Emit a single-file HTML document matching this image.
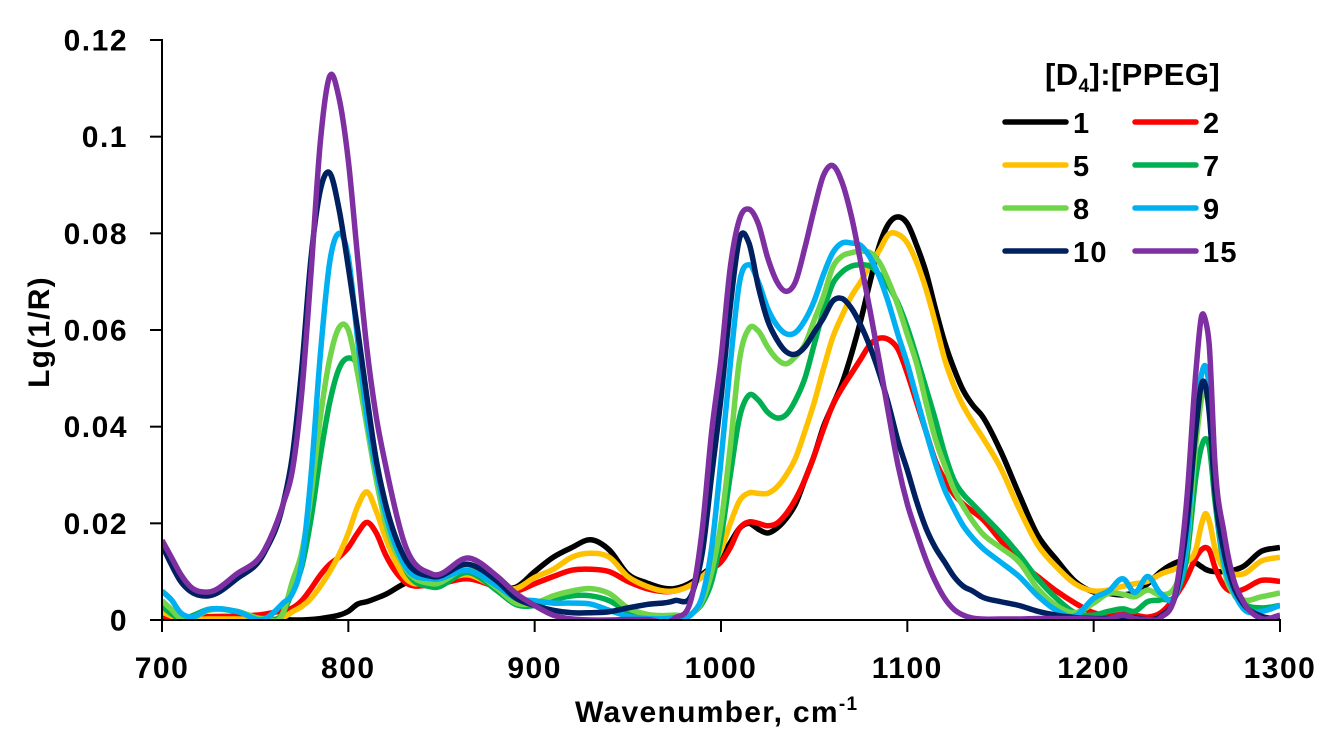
<!DOCTYPE html>
<html lang="en">
<head>
<meta charset="utf-8">
<title>Lg(1/R) vs Wavenumber</title>
<style>
html,body{margin:0;padding:0;background:#fff;}
body{width:1330px;height:744px;overflow:hidden;}
svg{display:block;}
text{font-family:"Liberation Sans",sans-serif;font-weight:bold;fill:#000;}
.tick{font-size:30px;letter-spacing:1.5px;}
.title{font-size:30px;letter-spacing:1.3px;}
.ltext{font-size:29px;letter-spacing:1.2px;}
</style>
</head>
<body>
<svg id="chart" width="1330" height="744" viewBox="0 0 1330 744" xmlns="http://www.w3.org/2000/svg">
  <rect width="1330" height="744" fill="#fff"/>
  <defs><clipPath id="plot-clip"><rect x="162" y="0" width="1118" height="620"/></clipPath></defs>
  <g id="series-layer" clip-path="url(#plot-clip)"></g>
  <g id="axes-layer"></g>
  <text class="title" x="575" y="722">Wavenumber, cm<tspan font-size="19" dy="-12">-1</tspan></text>
  <text class="title" style="letter-spacing:1.2px" text-anchor="middle" transform="translate(49,332) rotate(-90)">Lg(1/R)</text>
  <g id="legend-layer">
    <text class="ltext" x="1045" y="85" style="font-size:31px;letter-spacing:0.4px">[D<tspan font-size="19" dy="7">4</tspan><tspan dy="-7">]:[PPEG]</tspan></text>
  </g>
</svg>
<script>
// Shared wavenumber grid, cm-1
const wavenumbers = [
  700,705,710,715,725,740,755,765,
  770,775,780,785,790,795,800,805,810,815,820,
  830,845,865,880,890,900,910,920,930,940,950,960,975,
  985,990,995,1000,1005,1010,1015,1020,1025,1030,1035,
  1040,1045,1050,1055,1060,1065,1070,1075,1080,1085,1090,
  1095,1100,1105,1110,1115,1120,1125,1130,1135,1140,
  1150,1160,1170,1180,1190,1200,1208,1216,1222,1229,1236,
  1245,1250,1255,1258,1260,1262,1265,1270,
  1275,1280,1290,1300
];
// Lg(1/R) values, in thousandths
const ratio1 = [
  0.3,0.3,0.2,0.2,0.3,0.2,0.1,0.1,
  0,0,0.1,0.3,0.6,1,1.8,3.3,3.8,4.5,5.3,
  7.5,9,10,7,6.8,10,13,15,16.6,14.5,9.5,7.7,6.5,
  8,9.5,11,13,16,19,20,18.8,18,19,21,
  24,29,34,40,44.5,49,55,62,70,77.5,82,
  83.4,82,77.5,72,64.5,57.5,52,47.5,44.5,42.3,
  35,26,17.5,12.5,8,5.8,5.5,5.2,5.7,7.5,10,
  12,12.5,11.8,11,10.5,10.2,10,10,
  10.3,11,14.2,15
];
const ratio2 = [
  0.3,0.3,0.2,0.5,0.7,0.8,1.2,2,
  2.5,4,6.5,9.3,11.5,13,15,18,20.2,18,13.5,
  8,7.3,8.5,6.8,6,7.5,9,10.3,10.5,10,8,6.5,6,
  7.5,9,10.5,12,15,19,20.3,20,19.5,20,22,
  25,29,34,39.5,44.5,48,51,54,57,58.3,58,
  56,51,45,39,33,29,26,24,22.5,21,
  16.5,12,9,6,3.5,1.5,0.8,1.2,1,0.6,1.5,
  5.5,8.8,13,14.6,15,14.5,11,7,
  5.8,6.3,8.2,8
];
const ratio5 = [
  1.7,0.8,0.2,0.1,0.2,0.2,0.1,0.5,
  1.7,2.8,4.5,7,10,13.5,18,23.5,26.5,22.5,17,
  9,7.8,9.3,6.8,6.5,8.8,10.5,13,13.8,13,9,7,6,
  7.5,9,11,14.5,20,24.7,26.3,26.2,26.2,27.5,30,
  33.5,39,45,52,58.5,63,67,70,73.5,76.5,79.8,
  79.8,78,74,68.5,61.5,54,48.5,44.3,41,38,
  31.5,23,15.5,11,7.5,6,6.2,7,7.5,8,9.5,
  10.8,12,14.8,20,22,20.5,15,10.5,
  9.5,9.5,12.2,13
];
const ratio7 = [
  2.8,1.3,0.2,0.7,2.2,1.8,0.2,1.5,
  6,11,21,34,45,52,54.2,52.5,44,33,23,
  11,6.8,9.8,6,3.2,3,4.2,5,5,4,1.8,1,0.5,
  1.5,3.5,8,17,30,42,46.5,45.5,43,41.8,42.5,
  45.5,50,57,64,69.6,72,73.2,73.5,73.2,71.5,69,
  65.5,60.5,54.4,48,41.5,34.5,29,26,24,22,
  18,13.5,8.5,4.5,1.5,1,1.8,2.3,1.8,3.8,4.2,
  6,13,30,36,37.5,36,25,11,
  5.5,3.5,2.5,3
];
const ratio8 = [
  4,2.2,0.3,0.3,2,1.8,0.3,1.5,
  8,14,26,42,54,60.5,60,51,40,29,20,
  11,7.5,10.5,6.5,3.5,3.5,5,6,6.5,5.5,2.5,1.2,1,
  1.5,4,10,20,36,54,60.3,59.8,56.5,54,53,
  54.5,57,62,67,73,75.3,76,76.3,76,74,70,
  65,59,53,45,37.5,32,27,23.5,20.5,18,
  15,12,6.5,3,1.5,3.5,5.5,5.3,4.8,6.2,5.2,
  8,15,37,46,48,46,30,11,
  5.5,4.2,4.8,5.6
];
const ratio9 = [
  6,4.2,1.5,0.6,2.2,1.8,0.2,3.5,
  5.5,12,30,55,74,80,75,58,42,31,22,
  11.5,8.5,10.2,7,4.5,4,3.5,3.5,3.3,2,0.8,0.3,0.5,
  1.5,5,15,33,53,70,73.5,70,64.5,61,59.2,
  59.5,62,66,71.5,76,78,78,77.5,75,71,65.5,
  59,53,46,39,32.5,27,23,19.5,17,15,
  12,9,5,2,0.8,4.5,6,8.5,5.7,9,5.5,
  6,16,42,51,52.5,48,28,12,
  6,2.5,1.8,3
];
const ratio10 = [
  15.5,11.5,8,6,5,8.5,14,24,
  34,52,75,89,92.5,85,73,60,46,33,24,
  13,9,11.5,8,4.5,3,2,1.5,1.5,1.7,2.5,3.2,4,
  6,14,30,46,65,79,78,69,62,58,55.5,
  55,56.5,59.5,62.5,66,66.5,64.5,61,56.5,51,44.5,
  37,31,24.5,19,15,12,9,7,6,4.8,
  3.8,3,1.8,1,0.5,0.3,0.3,0.6,0.5,0.1,0.8,
  7,20,40,49,48.5,43,27,14,
  7,3.5,0.8,0.2
];
const ratio15 = [
  16.5,13,9.5,7,5.8,9.5,14.5,24,
  31,47,72,99,112.5,108,95,75,56,42,32,
  16,9.5,12.8,9,5.5,3,1,0.2,0,0,0.1,0.1,0.3,
  6,19,39,54,73,83,85,82,75,70,68,
  70,77,85,92,94,90.5,83.5,74,64,53.5,42.5,
  32,24,18,12.5,8,4.5,2.2,1,0.4,0.2,
  0.2,0.2,0.3,0.3,0.3,0.2,0.2,1,0.3,0.1,0.5,
  8,25,52,63,62,57,33,18,
  8.5,4,0.3,1
];
const seriesValues = [ratio1, ratio2, ratio5, ratio7, ratio8, ratio9, ratio10, ratio15];
const seriesLabels = ["1","2","5","7","8","9","10","15"];
const seriesColors = ["#000000","#FF0000","#FFC000","#00B050","#70D548","#00B0F0","#002060","#7E30A2"];
const xTicks = [700,800,900,1000,1100,1200,1300];
const yTicks = [0,0.02,0.04,0.06,0.08,0.1,0.12];

const NS = "http://www.w3.org/2000/svg";
const plot = {left:162,right:1280,top:40,bottom:620};
const xDomain = [700,1300];
const yDomain = [0,0.12];
function xScale(v){ return plot.left + (v - xDomain[0]) / (xDomain[1] - xDomain[0]) * (plot.right - plot.left); }
function yScale(v){ return plot.bottom - (v - yDomain[0]) / (yDomain[1] - yDomain[0]) * (plot.bottom - plot.top); }

// Smooth cubic path through the scaled points (three-point tangents)
function linePath(xs, ys){
  const n = xs.length, dx = [], m = [], t = [];
  for(let i=0;i<n-1;i++){ dx[i]=xs[i+1]-xs[i]; m[i]=(ys[i+1]-ys[i])/dx[i]; }
  t[0]=m[0]; t[n-1]=m[n-2];
  for(let i=1;i<n-1;i++){
    t[i]=(m[i-1]*dx[i]+m[i]*dx[i-1])/(dx[i]+dx[i-1]);
  }
  let d="M"+xs[0].toFixed(2)+" "+ys[0].toFixed(2);
  for(let i=0;i<n-1;i++){
    const h=dx[i]/3;
    d+="C"+(xs[i]+h).toFixed(2)+" "+(ys[i]+t[i]*h).toFixed(2)+" "+(xs[i+1]-h).toFixed(2)+" "+(ys[i+1]-t[i+1]*h).toFixed(2)+" "+xs[i+1].toFixed(2)+" "+ys[i+1].toFixed(2);
  }
  return d;
}

const seriesLayer = document.getElementById("series-layer");
const axesLayer = document.getElementById("axes-layer");
const legendLayer = document.getElementById("legend-layer");

seriesValues.forEach(function(vals, idx){
  const path = document.createElementNS(NS,"path");
  
  
  path.setAttribute("d", linePath(wavenumbers.map(xScale), vals.map(function(v){ return yScale(v/1000); })));
  path.setAttribute("fill","none");
  path.setAttribute("stroke",seriesColors[idx]);
  path.setAttribute("stroke-width","5.5");
  path.setAttribute("stroke-linejoin","round");
  seriesLayer.appendChild(path);
});

function axisLine(x1,y1,x2,y2,name){
  const l = document.createElementNS(NS,"line");
  
  
  l.setAttribute("x1",x1); l.setAttribute("y1",y1);
  l.setAttribute("x2",x2); l.setAttribute("y2",y2);
  l.setAttribute("stroke","#000");
  l.setAttribute("stroke-width","2");
  axesLayer.appendChild(l);
}
axisLine(plot.left,plot.top-1,plot.left,plot.bottom+1,"y-axis-line");
axisLine(plot.left-1,plot.bottom,plot.right+1,plot.bottom,"x-axis-line");

yTicks.forEach(function(v){
  const y = yScale(v);
  axisLine(plot.left-12,y,plot.left,y,"y-axis-tick");
  const t = document.createElementNS(NS,"text");
  
  
  t.setAttribute("class","tick");
  t.setAttribute("x",128);
  t.setAttribute("y",y+10.5);
  t.setAttribute("text-anchor","end");
  t.textContent = String(v);
  axesLayer.appendChild(t);
});
xTicks.forEach(function(v){
  const x = xScale(v);
  axisLine(x,plot.bottom,x,plot.bottom+12,"x-axis-tick");
  const t = document.createElementNS(NS,"text");
  
  
  t.setAttribute("class","tick");
  t.setAttribute("x",x);
  t.setAttribute("y",678);
  t.setAttribute("text-anchor","middle");
  t.textContent = String(v);
  axesLayer.appendChild(t);
});

const legendColumns = [1003,1133];
const legendRows = [122,165,208,251];
seriesLabels.forEach(function(label, idx){
  const col = legendColumns[idx % 2], row = legendRows[Math.floor(idx / 2)];
  const l = document.createElementNS(NS,"line");
  
  
  l.setAttribute("x1",col+2); l.setAttribute("x2",col+63);
  l.setAttribute("y1",row); l.setAttribute("y2",row);
  l.setAttribute("stroke",seriesColors[idx]);
  l.setAttribute("stroke-width","5.5");
  l.setAttribute("stroke-linecap","round");
  legendLayer.appendChild(l);
  const t = document.createElementNS(NS,"text");
  
  
  t.setAttribute("class","ltext");
  t.setAttribute("x",col+70);
  t.setAttribute("y",row+11);
  t.textContent = label;
  legendLayer.appendChild(t);
});
</script>
</body>
</html>
